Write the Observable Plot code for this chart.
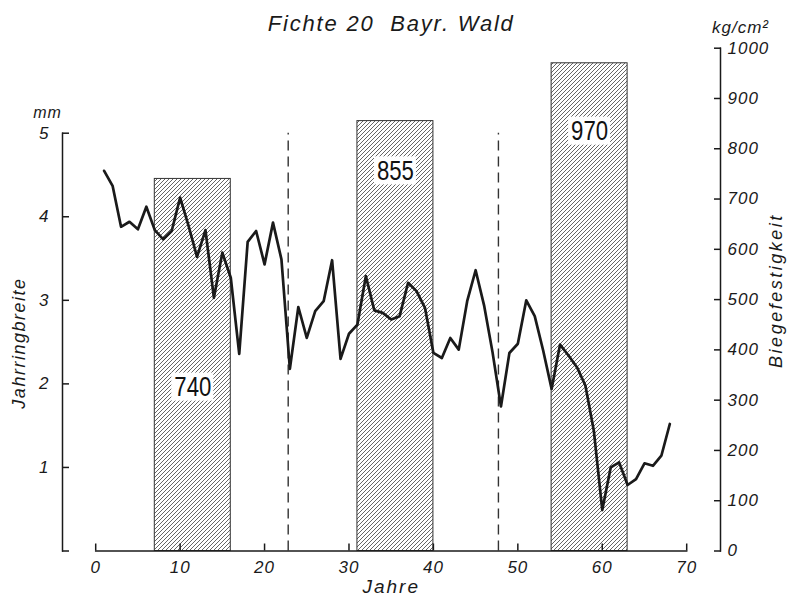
<!DOCTYPE html>
<html>
<head>
<meta charset="utf-8">
<script src="https://cdn.jsdelivr.net/npm/d3@7"></script>
<script src="https://cdn.jsdelivr.net/npm/@observablehq/plot@0.6"></script>
<style>
  body { margin: 0; background: #fff; }
  #chart { position: relative; width: 787px; height: 596px; background: #fff; }
</style>
</head>
<body>
<svg width="0" height="0" style="position:absolute">
  <defs>
    <pattern id="hatch" patternUnits="userSpaceOnUse" width="4" height="4">
      <rect width="4" height="4" fill="#fff"/>
      <path d="M-1,1 l2,-2 M0,4 l4,-4 M3,5 l2,-2" stroke="#555" stroke-width="0.9"/>
    </pattern>
  </defs>
</svg>
<div id="chart"></div>
<script>
// ---- data ----
const years = [1,2,3,4,5,6,7,8,9,10,11,12,13,14,15,16,17,18,19,20,
  21,22,23,24,25,26,27,28,29,30,31,32,33,34,35,36,37,38,39,40,
  41,42,43,44,45,46,47,48,49,50,51,52,53,54,55,56,57,58,59,60,
  61,62,63,64,65,66,67,68];
const ringWidth = [4.55,4.37,3.88,3.94,3.85,4.12,3.84,3.73,3.83,4.23,
  3.89,3.52,3.84,3.03,3.57,3.27,2.36,3.70,3.83,3.43,
  3.93,3.49,2.18,2.92,2.55,2.87,2.99,3.48,2.30,2.60,
  2.71,3.29,2.88,2.85,2.77,2.81,3.21,3.11,2.91,2.37,
  2.31,2.55,2.41,2.99,3.36,2.94,2.38,1.73,2.37,2.48,
  3.00,2.81,2.40,1.94,2.47,2.34,2.20,1.98,1.44,0.49,
  1.00,1.06,0.79,0.86,1.05,1.02,1.14,1.52];
const strengthFrom = [7, 31, 54];
const strengthTo = [16, 40, 63];
const strength = [740, 855, 970];
const strengthLabelAt = [326, 756, 835];
const markYears = [22.8, 47.7];
const mmTicks = [0, 1, 2, 3, 4, 5];
const mmLabels = [1, 2, 3, 4, 5];
const kgTicks = [0, 100, 200, 300, 400, 500, 600, 700, 800, 900, 1000];
const yearTicks = [0, 10, 20, 30, 40, 50, 60, 70];

// ---- layout ----
const W = 787, H = 596;
const xRange = [95.2, 686.2];
const font = "'Liberation Sans', Arial, sans-serif";
const layerStyle = {
  position: "absolute", left: "0px", top: "0px", background: "transparent",
  overflow: "visible", fontFamily: font, fontStyle: "italic", fontSize: "17px",
  letterSpacing: "1px", color: "#1a1a1a"
};
const ink = "#1a1a1a";
const fmt = d => String(d);

const bars = strength.map((v, i) => ({x1: strengthFrom[i], x2: strengthTo[i], v, at: strengthLabelAt[i]}));

// Layer C: strength bars + right axis (kg/cm²)
const plotC = Plot.plot({
  width: W, height: H,
  marginTop: 47.7, marginBottom: 45.5, marginLeft: 62, marginRight: 67,
  x: {domain: [0, 70], range: xRange, axis: null},
  y: {domain: [0, 1000]},
  style: layerStyle,
  marks: [
    Plot.rectY(bars, {x1: "x1", x2: "x2", y: "v", fill: "url(#hatch)", stroke: "#333", strokeWidth: 1}),
    Plot.rect(bars, {x1: "x1", x2: "x2", y1: "at", y2: "at", fill: "white",
      insetLeft: 17, insetRight: 17, insetTop: -14, insetBottom: -14}),
    Plot.text(bars, {x: d => (d.x1 + d.x2) / 2, y: "at", text: d => String(d.v),
      fontSize: 28, fontStyle: "normal", fill: "#111", lineAnchor: "middle"}),
    Plot.frame({anchor: "right", stroke: ink, strokeWidth: 1.5}),
    Plot.axisY({ticks: kgTicks, anchor: "right", tickSize: -7, tickFormat: () => "", strokeWidth: 1.5, stroke: ink, label: null}),
    Plot.axisY({ticks: kgTicks, anchor: "right", tickSize: 0, tickPadding: 7, tickFormat: fmt, label: null, fill: ink}),
    Plot.text(["kg/cm²"], {frameAnchor: "top-right", textAnchor: "middle", lineAnchor: "middle", dx: 20, dy: -21, fontSize: 17, fill: ink}),
    Plot.text(["Biegefestigkeit"], {frameAnchor: "right", textAnchor: "middle", lineAnchor: "middle", rotate: -90, dx: 56, dy: -9, fontSize: 18, fill: ink})
  ]
});

// Layer A: ring width line + left axis (mm)
const plotA = Plot.plot({
  width: W, height: H,
  marginTop: 132.7, marginBottom: 45.5, marginLeft: 62, marginRight: 67,
  x: {domain: [0, 70], range: xRange, axis: null},
  y: {domain: [0, 5]},
  style: layerStyle,
  marks: [
    Plot.ruleX(markYears, {y1: 0, y2: 5, stroke: "#333", strokeWidth: 1.4, strokeDasharray: "10,6"}),
    Plot.line(ringWidth, {x: (d, i) => years[i], y: d => d, stroke: ink, strokeWidth: 2.7}),
    Plot.frame({anchor: "left", stroke: ink, strokeWidth: 1.5}),
    Plot.axisY({ticks: mmTicks, anchor: "left", tickSize: -7, tickFormat: () => "", strokeWidth: 1.5, stroke: ink, label: null}),
    Plot.axisY({ticks: mmLabels, anchor: "left", tickSize: 0, tickPadding: 13, tickFormat: fmt, label: null, fill: ink}),
    Plot.text(["mm"], {frameAnchor: "top-left", textAnchor: "middle", lineAnchor: "middle", dx: -15, dy: -20, fontSize: 16, fill: ink}),
    Plot.text(["Jahrringbreite"], {frameAnchor: "left", textAnchor: "middle", lineAnchor: "middle", rotate: -90, dx: -43, dy: 1, fontSize: 18, fill: ink})
  ]
});

// Layer B: x axis + title
const plotB = Plot.plot({
  width: W, height: H,
  marginTop: 23, marginBottom: 45.5, marginLeft: xRange[0], marginRight: W - xRange[1],
  x: {domain: [0, 70]},
  style: layerStyle,
  marks: [
    Plot.frame({anchor: "bottom", stroke: ink, strokeWidth: 1.5}),
    Plot.axisX({ticks: yearTicks, anchor: "bottom", tickSize: -7, tickFormat: () => "", strokeWidth: 1.5, stroke: ink, label: null}),
    Plot.axisX({ticks: yearTicks, anchor: "bottom", tickSize: 0, tickPadding: 10, tickFormat: fmt, label: null, fill: ink}),
    Plot.text(["Fichte 20  Bayr. Wald"], {frameAnchor: "top", lineAnchor: "middle", fontSize: 22, fill: ink}),
    Plot.text(["Jahre"], {frameAnchor: "bottom", lineAnchor: "middle", dy: 36, fontSize: 19, fill: ink})
  ]
});

const chart = document.getElementById("chart");
chart.append(plotC, plotA, plotB);

// fine typographic spacing (styling only)
const spacing = {"Fichte 20  Bayr. Wald": "1.8px", "Biegefestigkeit": "2.5px", "Jahrringbreite": "1.5px", "Jahre": "2px"};
d3.selectAll("#chart text").each(function () {
  const t = this.textContent;
  if (spacing[t]) this.style.letterSpacing = spacing[t];
  if (strength.map(String).includes(t)) { this.style.letterSpacing = "0px"; this.setAttribute("textLength", 37); this.setAttribute("lengthAdjust", "spacingAndGlyphs"); }
});
</script>
</body>
</html>
